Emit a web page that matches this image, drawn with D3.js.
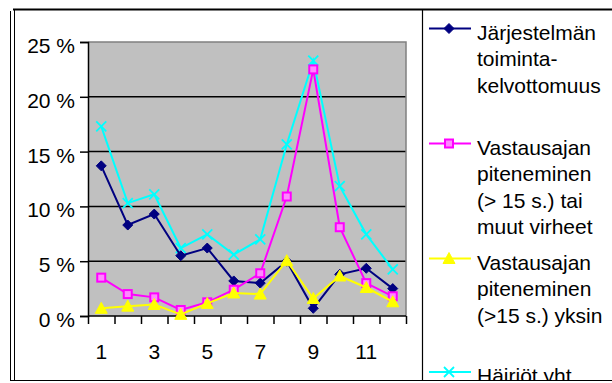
<!DOCTYPE html>
<html><head><meta charset="utf-8">
<script src="https://cdn.jsdelivr.net/npm/d3@7"></script>
<style>
html,body{margin:0;padding:0;background:#fff;}
svg{display:block;font-family:"Liberation Sans",Arial,sans-serif;}
</style></head>
<body>
<svg id="c" width="612" height="383"></svg>
<script>
const categories = [1,2,3,4,5,6,7,8,9,10,11,12];
const xTickLabels = [1,3,5,7,9,11];
const yTicks = [0,5,10,15,20,25];
const seriesNames = [
  ["Järjestelmän","toiminta-","kelvottomuus"],
  ["Vastausajan","piteneminen","(> 15 s.) tai","muut virheet"],
  ["Vastausajan","piteneminen","(>15 s.) yksin"],
  ["Häiriöt yht."]
];
const jarjestelma = [13.7,8.3,9.3,5.5,6.2,3.2,3.0,5.0,0.7,3.8,4.35,2.5];
const vastausTai  = [3.5,2.0,1.7,0.55,1.25,2.4,3.9,10.9,22.5,8.1,3.0,1.8];
const vastausYksin= [0.7,0.9,1.05,0.15,1.15,2.1,2.0,5.05,1.6,3.65,2.6,1.3];
const hairiot     = [17.3,10.3,11.1,6.2,7.45,5.6,7.0,15.65,23.3,11.85,7.45,4.25];

const colors = ["#000080","#FF00FF","#FFFF00","#00FFFF"];
const markers = ["diamond","square","triangle","x"];
const data = [jarjestelma, vastausTai, vastausYksin, hairiot];

const svg = d3.select("#c");
const L=88, R=406, T=42, B=316;
const x = d3.scaleBand().domain(categories).range([L,R]);
const xi = d3.scaleLinear().domain([0,categories.length]).range([L,R]);
const y = d3.scaleLinear().domain([0,25]).range([B,T]);

// outer frame
svg.append("line").attr("x1",10.5).attr("x2",10.5).attr("y1",11).attr("y2",381).attr("stroke","#000").attr("stroke-width",1);
svg.append("line").attr("x1",14.5).attr("x2",14.5).attr("y1",9).attr("y2",381).attr("stroke","#000").attr("stroke-width",1);
svg.append("line").attr("x1",13).attr("x2",612).attr("y1",9.5).attr("y2",9.5).attr("stroke","#000").attr("stroke-width",2);
svg.append("line").attr("x1",10).attr("x2",612).attr("y1",380.5).attr("y2",380.5).attr("stroke","#000").attr("stroke-width",1.2);
svg.append("line").attr("x1",422.5).attr("x2",422.5).attr("y1",10).attr("y2",381).attr("stroke","#000").attr("stroke-width",1.2);

// plot area
svg.append("rect").attr("x",L).attr("y",T).attr("width",R-L).attr("height",B-T).attr("fill","#C0C0C0");
svg.append("g").selectAll("line").data(yTicks.filter(d=>d>0&&d<25)).join("line")
  .attr("x1",L).attr("x2",R).attr("y1",d=>y(d)).attr("y2",d=>y(d))
  .attr("stroke","#000").attr("stroke-width",1.5);
svg.append("path").attr("d",`M${L},${T}H${R}V${B}`).attr("fill","none").attr("stroke","#808080").attr("stroke-width",1.5);

// y axis
const ya = svg.append("g").attr("transform",`translate(${L},0)`)
  .call(d3.axisLeft(y).tickValues(yTicks).tickFormat(d=>d+" %").tickSize(8).tickPadding(5));
ya.select(".domain").attr("stroke","#000").attr("stroke-width",1.5);
ya.selectAll(".tick line").attr("stroke","#000").attr("stroke-width",1.5);
ya.selectAll("text").attr("font-size",21).attr("font-family","Liberation Sans, Arial, sans-serif").attr("fill","#000").attr("dy","0.5em");

// x axis boundary ticks
const xa = svg.append("g").attr("transform",`translate(0,${B})`)
  .call(d3.axisBottom(xi).tickValues(d3.range(0,categories.length+1)).tickFormat("").tickSize(8));
xa.select(".domain").attr("stroke","#000").attr("stroke-width",1.5).attr("d",`M${L},0H${R}`);
xa.selectAll(".tick line").attr("stroke","#000").attr("stroke-width",1.5);
// x labels
const xl = svg.append("g").attr("transform",`translate(0,${B})`)
  .call(d3.axisBottom(x).tickValues(xTickLabels).tickSize(0).tickPadding(28));
xl.select(".domain").remove();
xl.selectAll("text").attr("font-size",21).attr("font-family","Liberation Sans, Arial, sans-serif").attr("fill","#000");

function drawMarker(g, type, color, cx, cy){
  if(type==="diamond"){
    g.append("path").attr("d",`M${cx},${cy-5}L${cx+5},${cy}L${cx},${cy+5}L${cx-5},${cy}Z`).attr("fill",color).attr("stroke",color).attr("stroke-width",1);
  } else if(type==="square"){
    g.append("rect").attr("x",cx-4).attr("y",cy-4).attr("width",8).attr("height",8).attr("fill","#FF88FF").attr("stroke",color).attr("stroke-width",2);
  } else if(type==="triangle"){
    g.append("path").attr("d",`M${cx},${cy-6}L${cx+6},${cy+5}L${cx-6},${cy+5}Z`).attr("fill",color).attr("stroke",color).attr("stroke-width",1);
  } else {
    g.append("path").attr("d",`M${cx-5},${cy-5}L${cx+5},${cy+5}M${cx+5},${cy-5}L${cx-5},${cy+5}`).attr("stroke",color).attr("stroke-width",1.8).attr("fill","none");
  }
}

const line = d3.line().x((d,i)=>x(categories[i])+x.bandwidth()/2).y(d=>y(d));
const order = [3,0,1,2];
order.forEach(s=>{
  const g = svg.append("g");
  g.append("path").datum(data[s]).attr("d",line).attr("fill","none").attr("stroke",colors[s]).attr("stroke-width",2);
  data[s].forEach((v,i)=>drawMarker(g, markers[s], colors[s], x(categories[i])+x.bandwidth()/2, y(v)));
});

// legend
const defs = svg.append("defs");
defs.append("clipPath").attr("id","lc").append("rect").attr("x",423).attr("y",11).attr("width",189).attr("height",369);
const lg = svg.append("g").attr("clip-path","url(#lc)");
const legY = [28.5,143.5,258.5,372];
seriesNames.forEach((lines,s)=>{
  const g = lg.append("g");
  g.append("line").attr("x1",429).attr("x2",471).attr("y1",legY[s]).attr("y2",legY[s]).attr("stroke",colors[s]).attr("stroke-width",2);
  drawMarker(g, markers[s], colors[s], 449, legY[s]);
  const t = g.append("text").attr("x",477).attr("y",legY[s]+11).attr("font-size",21).attr("fill","#000");
  lines.forEach((ln,k)=>t.append("tspan").attr("x",477).attr("dy",k===0?0:26.6).text(ln));
});
</script>
</body></html>
